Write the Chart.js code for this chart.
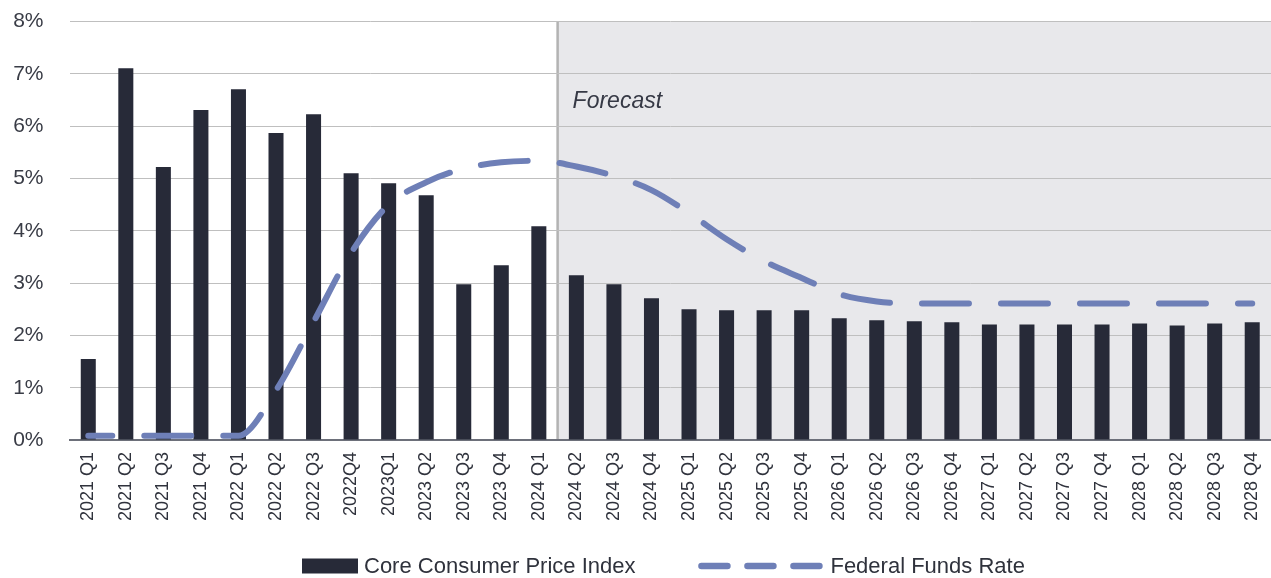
<!DOCTYPE html>
<html>
<head>
<meta charset="utf-8">
<title>Core CPI and Federal Funds Rate</title>
<script src="https://cdn.jsdelivr.net/npm/chart.js@4.4.1/dist/chart.umd.min.js"></script>
<style>
  html, body { margin: 0; padding: 0; background: #ffffff; }
  #wrap { width: 1271px; height: 578px; }
  canvas { display: block; }
</style>
</head>
<body>
<div id="wrap"><canvas id="chart" width="1271" height="578"></canvas></div>
<script>
// Quarterly periods
const quarters = [
  "2021 Q1", "2021 Q2", "2021 Q3", "2021 Q4",
  "2022 Q1", "2022 Q2", "2022 Q3", "2022Q4",
  "2023Q1", "2023 Q2", "2023 Q3", "2023 Q4",
  "2024 Q1", "2024 Q2", "2024 Q3", "2024 Q4",
  "2025 Q1", "2025 Q2", "2025 Q3", "2025 Q4",
  "2026 Q1", "2026 Q2", "2026 Q3", "2026 Q4",
  "2027 Q1", "2027 Q2", "2027 Q3", "2027 Q4",
  "2028 Q1", "2028 Q2", "2028 Q3", "2028 Q4"
];

// Core consumer price index, year-over-year % change
const coreCPI = [
  1.55, 7.11, 5.22, 6.31,
  6.71, 5.87, 6.23, 5.10,
  4.91, 4.68, 2.98, 3.34,
  4.09, 3.15, 2.98, 2.71,
  2.50, 2.48, 2.48, 2.48,
  2.33, 2.29, 2.27, 2.25,
  2.21, 2.21, 2.21, 2.21,
  2.23, 2.19, 2.23, 2.25
];

// Federal funds rate, %
const fedFunds = [
  0.08, 0.08, 0.08, 0.08,
  0.08, 0.95, 2.26, 3.58,
  4.50, 4.93, 5.19, 5.31,
  5.34, 5.23, 5.05, 4.78,
  4.34, 3.84, 3.42, 3.10,
  2.79, 2.65, 2.61, 2.61,
  2.61, 2.61, 2.61, 2.61,
  2.61, 2.61, 2.61, 2.61
];

// Y axis tick values
const yTicks = [0, 1, 2, 3, 4, 5, 6, 7, 8];

// First quarter of the projected period
const forecastStart = "2024 Q2";
const forecastLabel = "Forecast";

const FONT = "'Liberation Sans', Arial, Helvetica, sans-serif";
const BAR_COLOR = "#272a38";
const LINE_COLOR = "#6e7fb7";
const TEXT_COLOR = "#2f323c";

function forecastEdge(chart) {
  const i = quarters.indexOf(forecastStart);
  const xs = chart.scales.x;
  return (xs.getPixelForValue(i - 1) + xs.getPixelForValue(i)) / 2;
}

// Shaded band and divider for the projected quarters
const forecastBand = {
  id: "forecastBand",
  beforeDraw(chart) {
    const { ctx, chartArea } = chart;
    const edge = forecastEdge(chart);
    ctx.save();
    ctx.fillStyle = "#e8e8eb";
    ctx.fillRect(edge, chartArea.top, chartArea.right - edge, chartArea.bottom - chartArea.top);
    ctx.strokeStyle = "#b3b3b3";
    ctx.lineWidth = 2.5;
    ctx.beginPath();
    ctx.moveTo(edge, chartArea.top);
    ctx.lineTo(edge, chartArea.bottom);
    ctx.stroke();
    ctx.restore();
  },
  afterDatasetsDraw(chart) {
    const { ctx, chartArea } = chart;
    const edge = forecastEdge(chart);
    ctx.save();
    ctx.font = "italic 23px " + FONT;
    ctx.fillStyle = "#363945";
    ctx.textAlign = "left";
    ctx.textBaseline = "alphabetic";
    ctx.fillText(forecastLabel, edge + 15, chartArea.top + 86);
    ctx.restore();
  }
};

// Legend row under the axis labels
const bottomLegend = {
  id: "bottomLegend",
  afterDraw(chart) {
    const { ctx } = chart;
    const ds = chart.data.datasets;
    const cy = 566;
    let x = 302;
    ctx.save();
    ctx.font = "22px " + FONT;
    ctx.textBaseline = "middle";

    // bar swatch
    ctx.fillStyle = ds[0].backgroundColor;
    ctx.fillRect(x, cy - 7.5, 56, 15);
    x += 62;
    ctx.fillStyle = TEXT_COLOR;
    ctx.fillText(ds[0].label, x, cy + 1);
    x += ctx.measureText(ds[0].label).width + 63;

    // dashed line swatch
    ctx.strokeStyle = ds[1].borderColor;
    ctx.lineWidth = 6.5;
    ctx.lineCap = "round";
    ctx.setLineDash([26, 20]);
    ctx.beginPath();
    ctx.moveTo(x + 3, cy);
    ctx.lineTo(x + 121, cy);
    ctx.stroke();
    ctx.setLineDash([]);
    x += 132;
    ctx.fillText(ds[1].label, x, cy + 1);
    ctx.restore();
  }
};

new Chart(document.getElementById("chart"), {
  data: {
    labels: quarters,
    datasets: [
      {
        type: "bar",
        label: "Core Consumer Price Index",
        data: coreCPI,
        backgroundColor: BAR_COLOR,
        borderWidth: 0,
        categoryPercentage: 1.0,
        barPercentage: 0.4,
        order: 2
      },
      {
        type: "line",
        label: "Federal Funds Rate",
        data: fedFunds,
        borderColor: LINE_COLOR,
        backgroundColor: LINE_COLOR,
        borderWidth: 6,
        borderDash: [47, 32],
        borderDashOffset: 23,
        borderCapStyle: "round",
        borderJoinStyle: "round",
        cubicInterpolationMode: "monotone",
        pointRadius: 0,
        fill: false,
        order: 1
      }
    ]
  },
  options: {
    responsive: false,
    animation: false,
    devicePixelRatio: 1,
    layout: { padding: { top: 21.7, right: 0, bottom: 0, left: 0 } },
    plugins: {
      legend: { display: false },
      tooltip: { enabled: false }
    },
    scales: {
      x: {
        type: "category",
        offset: true,
        grid: { display: false, drawTicks: false },
        border: { display: true, color: "#6d707a", width: 2 },
        ticks: {
          autoSkip: false,
          maxRotation: 90,
          minRotation: 90,
          padding: 12,
          color: TEXT_COLOR,
          font: { family: FONT, size: 18 }
        },
        afterFit(scale) {
          scale.height = 138;
          scale.paddingLeft = 0;
          scale.paddingRight = 0;
        }
      },
      y: {
        min: yTicks[0],
        max: yTicks[yTicks.length - 1],
        afterBuildTicks(scale) { scale.ticks = yTicks.map(v => ({ value: v })); },
        grid: { color: "#bfbfbf", lineWidth: 1, drawTicks: false },
        border: { display: false },
        ticks: {
          padding: 26,
          color: "#393c46",
          font: { family: FONT, size: 21 },
          callback: v => v + "%"
        },
        afterFit(scale) {
          scale.width = 69.5;
          scale.paddingTop = 0;
          scale.paddingBottom = 0;
        }
      }
    }
  },
  plugins: [forecastBand, bottomLegend]
});
</script>
</body>
</html>
